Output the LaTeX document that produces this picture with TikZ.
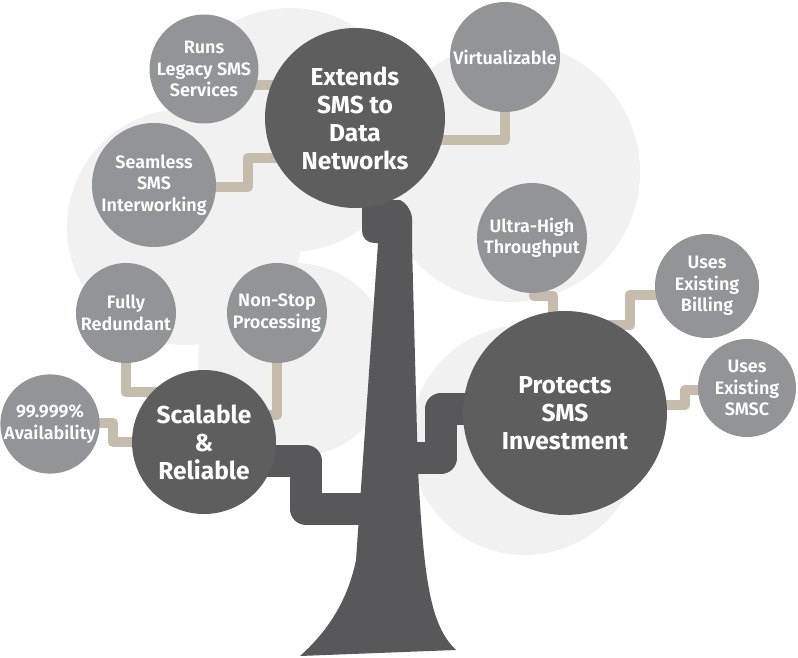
\documentclass[tikz,border=0pt]{standalone}
\usepackage{fontspec}
\setmainfont{Fira Sans}
\newfontfamily\semifont{Fira Sans SemiBold}
\usetikzlibrary{calc}
\definecolor{barkgray}{RGB}{88, 88, 90}
\definecolor{leafdark}{RGB}{94, 94, 95}
\definecolor{leafgray}{RGB}{147, 148, 152}
\definecolor{twigtan}{RGB}{197, 188, 172}
\definecolor{hazegray}{RGB}{241, 241, 241}
\pgfdeclarelayer{hazelayer}
\pgfdeclarelayer{twiglayer}
\pgfsetlayers{hazelayer,twiglayer,main}

\tikzset{
    bigleaf/.style={circle, fill=leafdark, text=white, align=center, inner sep=0pt,
                    font=\bfseries\fontsize{24.5}{28}\selectfont},
    leaf/.style={circle, fill=leafgray, text=white, align=center, inner sep=0pt,
                 font=\semifont\fontsize{18}{21.5}\selectfont},
    twig/.style={draw=twigtan, line width=10.5pt, line join=round},
    bough/.style={draw=barkgray, line width=32pt, line join=round},
    cloud/.style={fill=hazegray}
}

\begin{document}
\begin{tikzpicture}[x=1pt, y=-1pt]
    \useasboundingbox (0,0) rectangle (798,658);

    % leaves
    \node[bigleaf, minimum size=180pt] (ext) at (355,118) {Extends\\SMS to\\Data\\Networks};
    \node[bigleaf, minimum size=144pt] (scal) at (204,442) {Scalable\\\&\\Reliable};
    \node[bigleaf, minimum size=204pt] (prot) at (565,413) {Protects\\SMS\\Investment};

    \node[leaf, minimum size=104pt] (runs) at (204,69) {Runs\\Legacy SMS\\Services};
    \node[leaf, minimum size=110pt] (virt) at (505,57) {Virtualizable};
    \node[leaf, minimum size=124pt] (seam) at (154,185) {Seamless\\SMS\\Interworking};
    \node[leaf, minimum size=110pt] (ultra) at (532,238) {Ultra-High\\Throughput};
    \node[leaf, minimum size=104pt] (bill) at (707,286) {Uses\\Existing\\Billing};
    \node[leaf, minimum size=98pt] (smsc) at (747,388) {Uses\\Existing\\SMSC};
    \node[leaf, minimum size=100pt] (fully) at (126,313) {Fully\\Redundant};
    \node[leaf, minimum size=100pt] (nonstop) at (277,313) {Non-Stop\\Processing};
    \node[leaf, minimum size=98pt] (avail) at (50,424) {99.999\%\\Availability};

    % pale crown
    \begin{pgfonlayer}{hazelayer}
        \fill[cloud] (290,130) circle[radius=122];
        \fill[cloud] (510,172) circle[radius=130];
        \fill[cloud] (185,227) circle[radius=118];
        \fill[cloud] (295,360) circle[radius=97];
        \fill[cloud] (525,440) circle[radius=115];
    \end{pgfonlayer}

    \coordinate (trunkL) at (380,509);
    \coordinate (trunkR) at (400,458);

    \begin{pgfonlayer}{twiglayer}
        % twigs
        \draw[twig] ([yshift=-16pt]runs.center) -- ([yshift=-16pt]runs.center -| ext.center);
        \draw[twig] (virt.center) |- ([yshift=-22pt]ext.center);
        \draw[twig] ([yshift=-2pt]seam.center) -| (248,170) |- ([yshift=-40pt]ext.center);
        \draw[twig] ([xshift=2pt]ultra.center) -- ++(0,58) -| ([xshift=-12pt]prot.center);
        \draw[twig] ([yshift=-9pt]bill.center) -| (630,310) |- ([yshift=88pt]prot.center);
        \draw[twig] ([yshift=-2pt]smsc.center) -| (685,398) |- ([yshift=8pt]prot.center);
        \draw[twig] (fully.center) |- ([yshift=50pt]scal.center);
        \draw[twig] (nonstop.center) |- ([yshift=27pt]scal.center);
        \draw[twig] ([yshift=1pt]avail.center) -| (113,432) |- (scal.center);

        % trunk
        \fill[barkgray] (362,200) -- (400,200) [rounded corners=12pt] -- (412,207)
            -- (412,245) [sharp corners] -- (418,470)
            .. controls (424,580) and (430,625) .. (456,650)
            -- (300,656)
            .. controls (335,625) and (350,590) .. (356,560)
            -- (378,243) [rounded corners=12pt] -- (362,243) -- (362,200) [sharp corners] -- cycle;

        % boughs
        \draw[bough] ([yshift=-19pt]scal.center) -| (306,485) |- (trunkL);
        \draw[bough] (trunkR) -| (441,430) |- ([yshift=4pt]prot.center);
    \end{pgfonlayer}
\end{tikzpicture}
\end{document}
